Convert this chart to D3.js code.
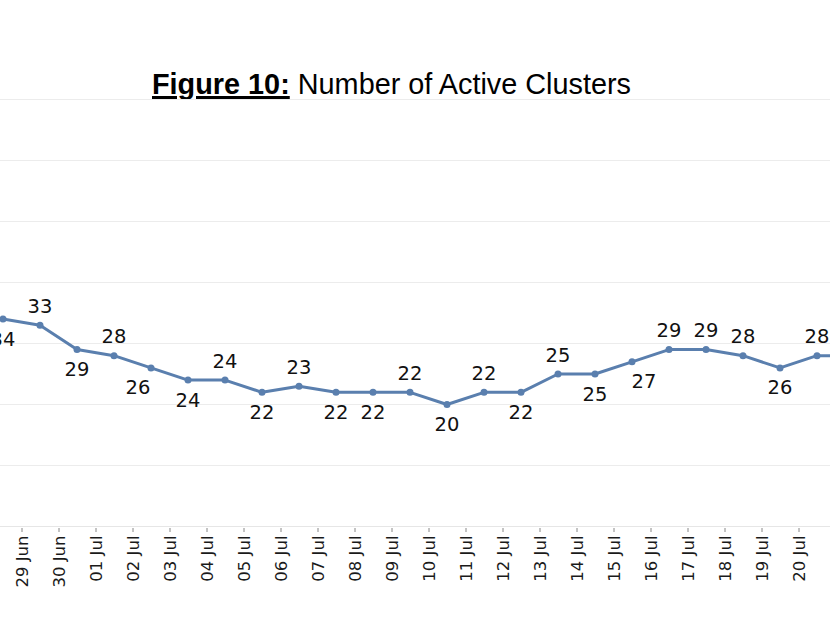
<!DOCTYPE html>
<html>
<head>
<meta charset="utf-8">
<script src="https://cdn.jsdelivr.net/npm/d3@7"></script>
<style>
  body { margin: 0; background: #fff; }
  svg { display: block; }
</style>
</head>
<body>
<svg id="chart" width="830" height="622"></svg>
<script>
// dates for each point (the chart is cropped, so the first and last ones are at the edges)
var dates = ["29 Jun", "30 Jun", "01 Jul", "02 Jul", "03 Jul", "04 Jul", "05 Jul", "06 Jul",
             "07 Jul", "08 Jul", "09 Jul", "10 Jul", "11 Jul", "12 Jul", "13 Jul", "14 Jul",
             "15 Jul", "16 Jul", "17 Jul", "18 Jul", "19 Jul", "20 Jul", "21 Jul", "22 Jul"];
var clusters = [34, 33, 29, 28, 26, 24, 24, 22, 23, 22, 22, 22, 20, 22, 22, 25,
                25, 27, 29, 29, 28, 26, 28, 28];
// where each value label sits: t = above, b = below, bl / br = below and shifted
var labelSide = ["b", "t", "b", "t", "bl", "b", "t", "b", "t", "b", "b", "t", "b", "t", "b", "t",
                 "b", "br", "t", "t", "t", "b", "t", "t"];
var yTicks = [0, 10, 20, 30, 40, 50, 60, 70];

var svg = d3.select("#chart");
var W = 830;
var step = 37;

var x = d3.scalePoint()
    .domain(dates)
    .range([3, 3 + step * (dates.length - 1)]);
var y = d3.scaleLinear()
    .domain([0, 70])
    .range([526.5, 99.5]);

// Title
var title = svg.append('text')
    .attr('x', 152).attr('y', 94)
    .attr('font-family', "'Liberation Sans Narrow', 'Arial Narrow', 'Liberation Sans', Arial, sans-serif")
    .attr('font-size', 30)
    .attr('fill', "#000");
title.append('tspan')
    .attr('font-weight', "bold")
    .attr('text-decoration', "underline")
    .text("Figure 10:");
title.append('tspan').text(" Number of Active Clusters");
title.attr('textLength', 479).attr('lengthAdjust', "spacingAndGlyphs");

// Gridlines
svg.append('g').selectAll('line')
    .data(yTicks.slice(1))
    .join('line')
    .attr('x1', 0).attr('x2', W)
    .attr('y1', function(d) { return y(d); })
    .attr('y2', function(d) { return y(d); })
    .attr('stroke', "#ececec")
    .attr('stroke-width', 1);

// x axis; labels sit half a step right of their point
var xAxis = svg.append('g')
    .attr('transform', "translate(" + step / 2 + "," + y(0) + ")")
    .call(d3.axisBottom(x).tickValues(dates.slice(0, 22)).tickSize(0).tickPadding(0));
xAxis.select('.domain').remove();
svg.append('line')
    .attr('x1', 0).attr('x2', W)
    .attr('y1', y(0)).attr('y2', y(0))
    .attr('stroke', "#e6e6e6").attr('stroke-width', 1);
xAxis.selectAll('.tick').append('line')
    .attr('y1', 1.5).attr('y2', 5.5)
    .attr('stroke', "#888").attr('stroke-width', 1);
xAxis.selectAll('.tick text')
    .attr('font-family', "'DejaVu Sans', Verdana, sans-serif")
    .attr('font-size', 16.5)
    .attr('fill', "#1a1a1a")
    .attr('text-anchor', "end")
    .attr('dy', "0.35em")
    .attr('transform', "translate(0, 9) rotate(-90)")
    .attr('x', 0).attr('y', 0);

// Line and markers
var pts = dates.map(function(d, i) { return {date: d, value: clusters[i], side: labelSide[i]}; });
var line = d3.line()
    .x(function(d) { return x(d.date); })
    .y(function(d) { return y(d.value); });

svg.append('path')
    .datum(pts)
    .attr('d', line)
    .attr('fill', "none")
    .attr('stroke', "#5a7fae")
    .attr('stroke-width', 3)
    .attr('stroke-linejoin', "round");

svg.append('g').selectAll('circle')
    .data(pts)
    .join('circle')
    .attr('cx', function(d) { return x(d.date); })
    .attr('cy', function(d) { return y(d.value); })
    .attr('r', 3.5)
    .attr('fill', "#5a7fae");

// Value labels
svg.append('g').selectAll('text')
    .data(pts)
    .join('text')
    .attr('x', function(d) {
        var dx = d.side == "bl" ? -13 : d.side == "br" ? 12 : 0;
        return x(d.date) + dx;
    })
    .attr('y', function(d) {
        return y(d.value) + (d.side == "t" ? -12.5 : 26.5);
    })
    .attr('text-anchor', "middle")
    .attr('font-family', "'DejaVu Sans', Verdana, sans-serif")
    .attr('font-size', 19.5)
    .attr('fill', "#111")
    .text(function(d) { return d.value; });
</script>
</body>
</html>
